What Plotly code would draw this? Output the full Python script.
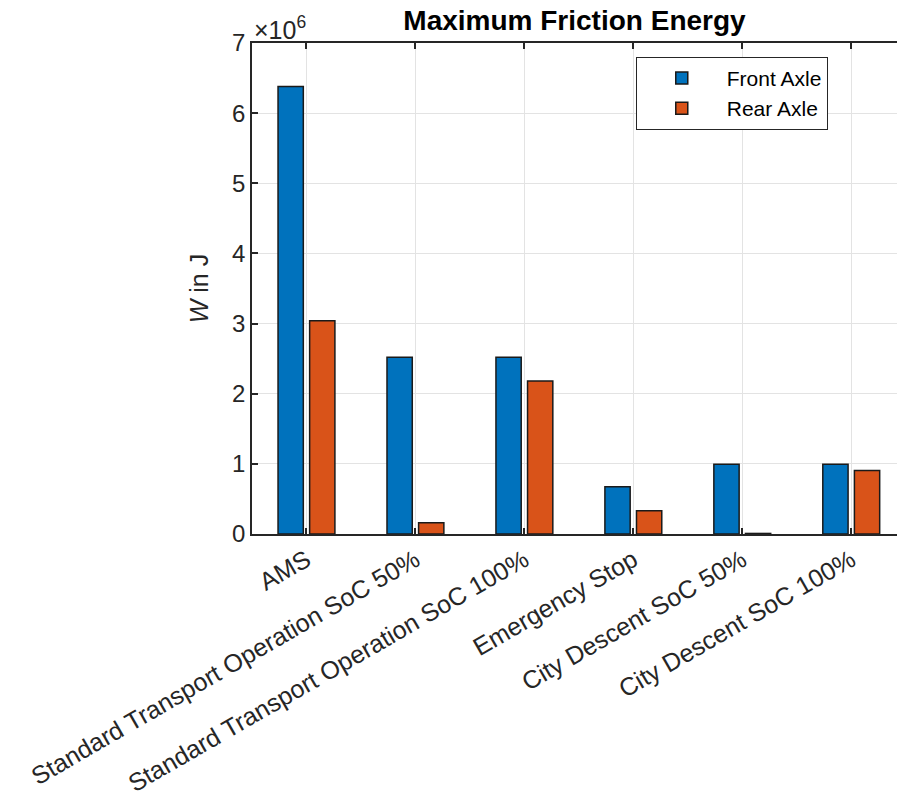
import plotly.graph_objects as go

categories = ["AMS", "Standard Transport Operation SoC 50%", "Standard Transport Operation SoC 100%",
              "Emergency Stop", "City Descent SoC 50%", "City Descent SoC 100%"]
front_axle = [6.38e6, 2.52e6, 2.52e6, 0.675e6, 0.993e6, 0.993e6]
rear_axle = [3.04e6, 0.16e6, 2.18e6, 0.33e6, 0.008e6, 0.905e6]
y_ticks = [0, 1e6, 2e6, 3e6, 4e6, 5e6, 6e6, 7e6]
y_ticklabels = ["0", "1", "2", "3", "4", "5", "6", "7"]

FONT = "Liberation Sans, Arial, Helvetica, sans-serif"
AX = "#262626"

fig = go.Figure()
fig.add_trace(go.Bar(name="Front Axle", x=categories, y=front_axle,
                     marker=dict(color="#0072BD", line=dict(color="#1a1a1a", width=1.5))))
fig.add_trace(go.Bar(name="Rear Axle", x=categories, y=rear_axle,
                     marker=dict(color="#D95319", line=dict(color="#1a1a1a", width=1.5))))

fig.update_layout(
    width=897, height=811,
    margin=dict(l=252, r=0, t=43, b=277),
    paper_bgcolor="white", plot_bgcolor="white",
    barmode="group", bargap=0.42, bargroupgap=0.2,
    font=dict(family=FONT, color=AX),
    title=dict(text="<b>Maximum Friction Energy</b>", x=0.5, xref="paper", xanchor="center",
               y=1 - 20 / 811, yanchor="middle", font=dict(size=28, color="black", family=FONT)),
    showlegend=True,
    legend=dict(x=0.595, y=0.972, xanchor="left", yanchor="top", itemwidth=80,
                bordercolor=AX, borderwidth=1, bgcolor="white",
                font=dict(size=21, color="black", family=FONT)),
    xaxis=dict(type="category", range=[-0.5, 5.42], showline=True, linecolor=AX, linewidth=1.5,
               mirror="ticks", ticks="inside", ticklen=6, tickcolor=AX, tickwidth=1.5,
               showgrid=True, gridcolor="#e3e3e3", gridwidth=1,
               tickangle=-30, tickfont=dict(size=25, color=AX, family=FONT)),
    yaxis=dict(range=[0, 7e6], tickvals=y_ticks, ticktext=y_ticklabels,
               showline=True, linecolor=AX, linewidth=1.5, mirror=False,
               ticks="inside", ticklen=6, tickcolor=AX, tickwidth=1.5,
               showgrid=True, gridcolor="#e3e3e3", gridwidth=1, zeroline=False,
               tickfont=dict(size=24, color=AX, family=FONT),
               title=dict(text="<i>W</i> in J", font=dict(size=25, color=AX, family=FONT), standoff=16)),
)

fig.add_annotation(text="×10<sup>6</sup>", xref="paper", yref="paper", x=0.0, y=1.0,
                   xanchor="left", yanchor="bottom", yshift=-3, showarrow=False,
                   font=dict(size=25, color=AX, family=FONT))

fig.write_html("out.html")
